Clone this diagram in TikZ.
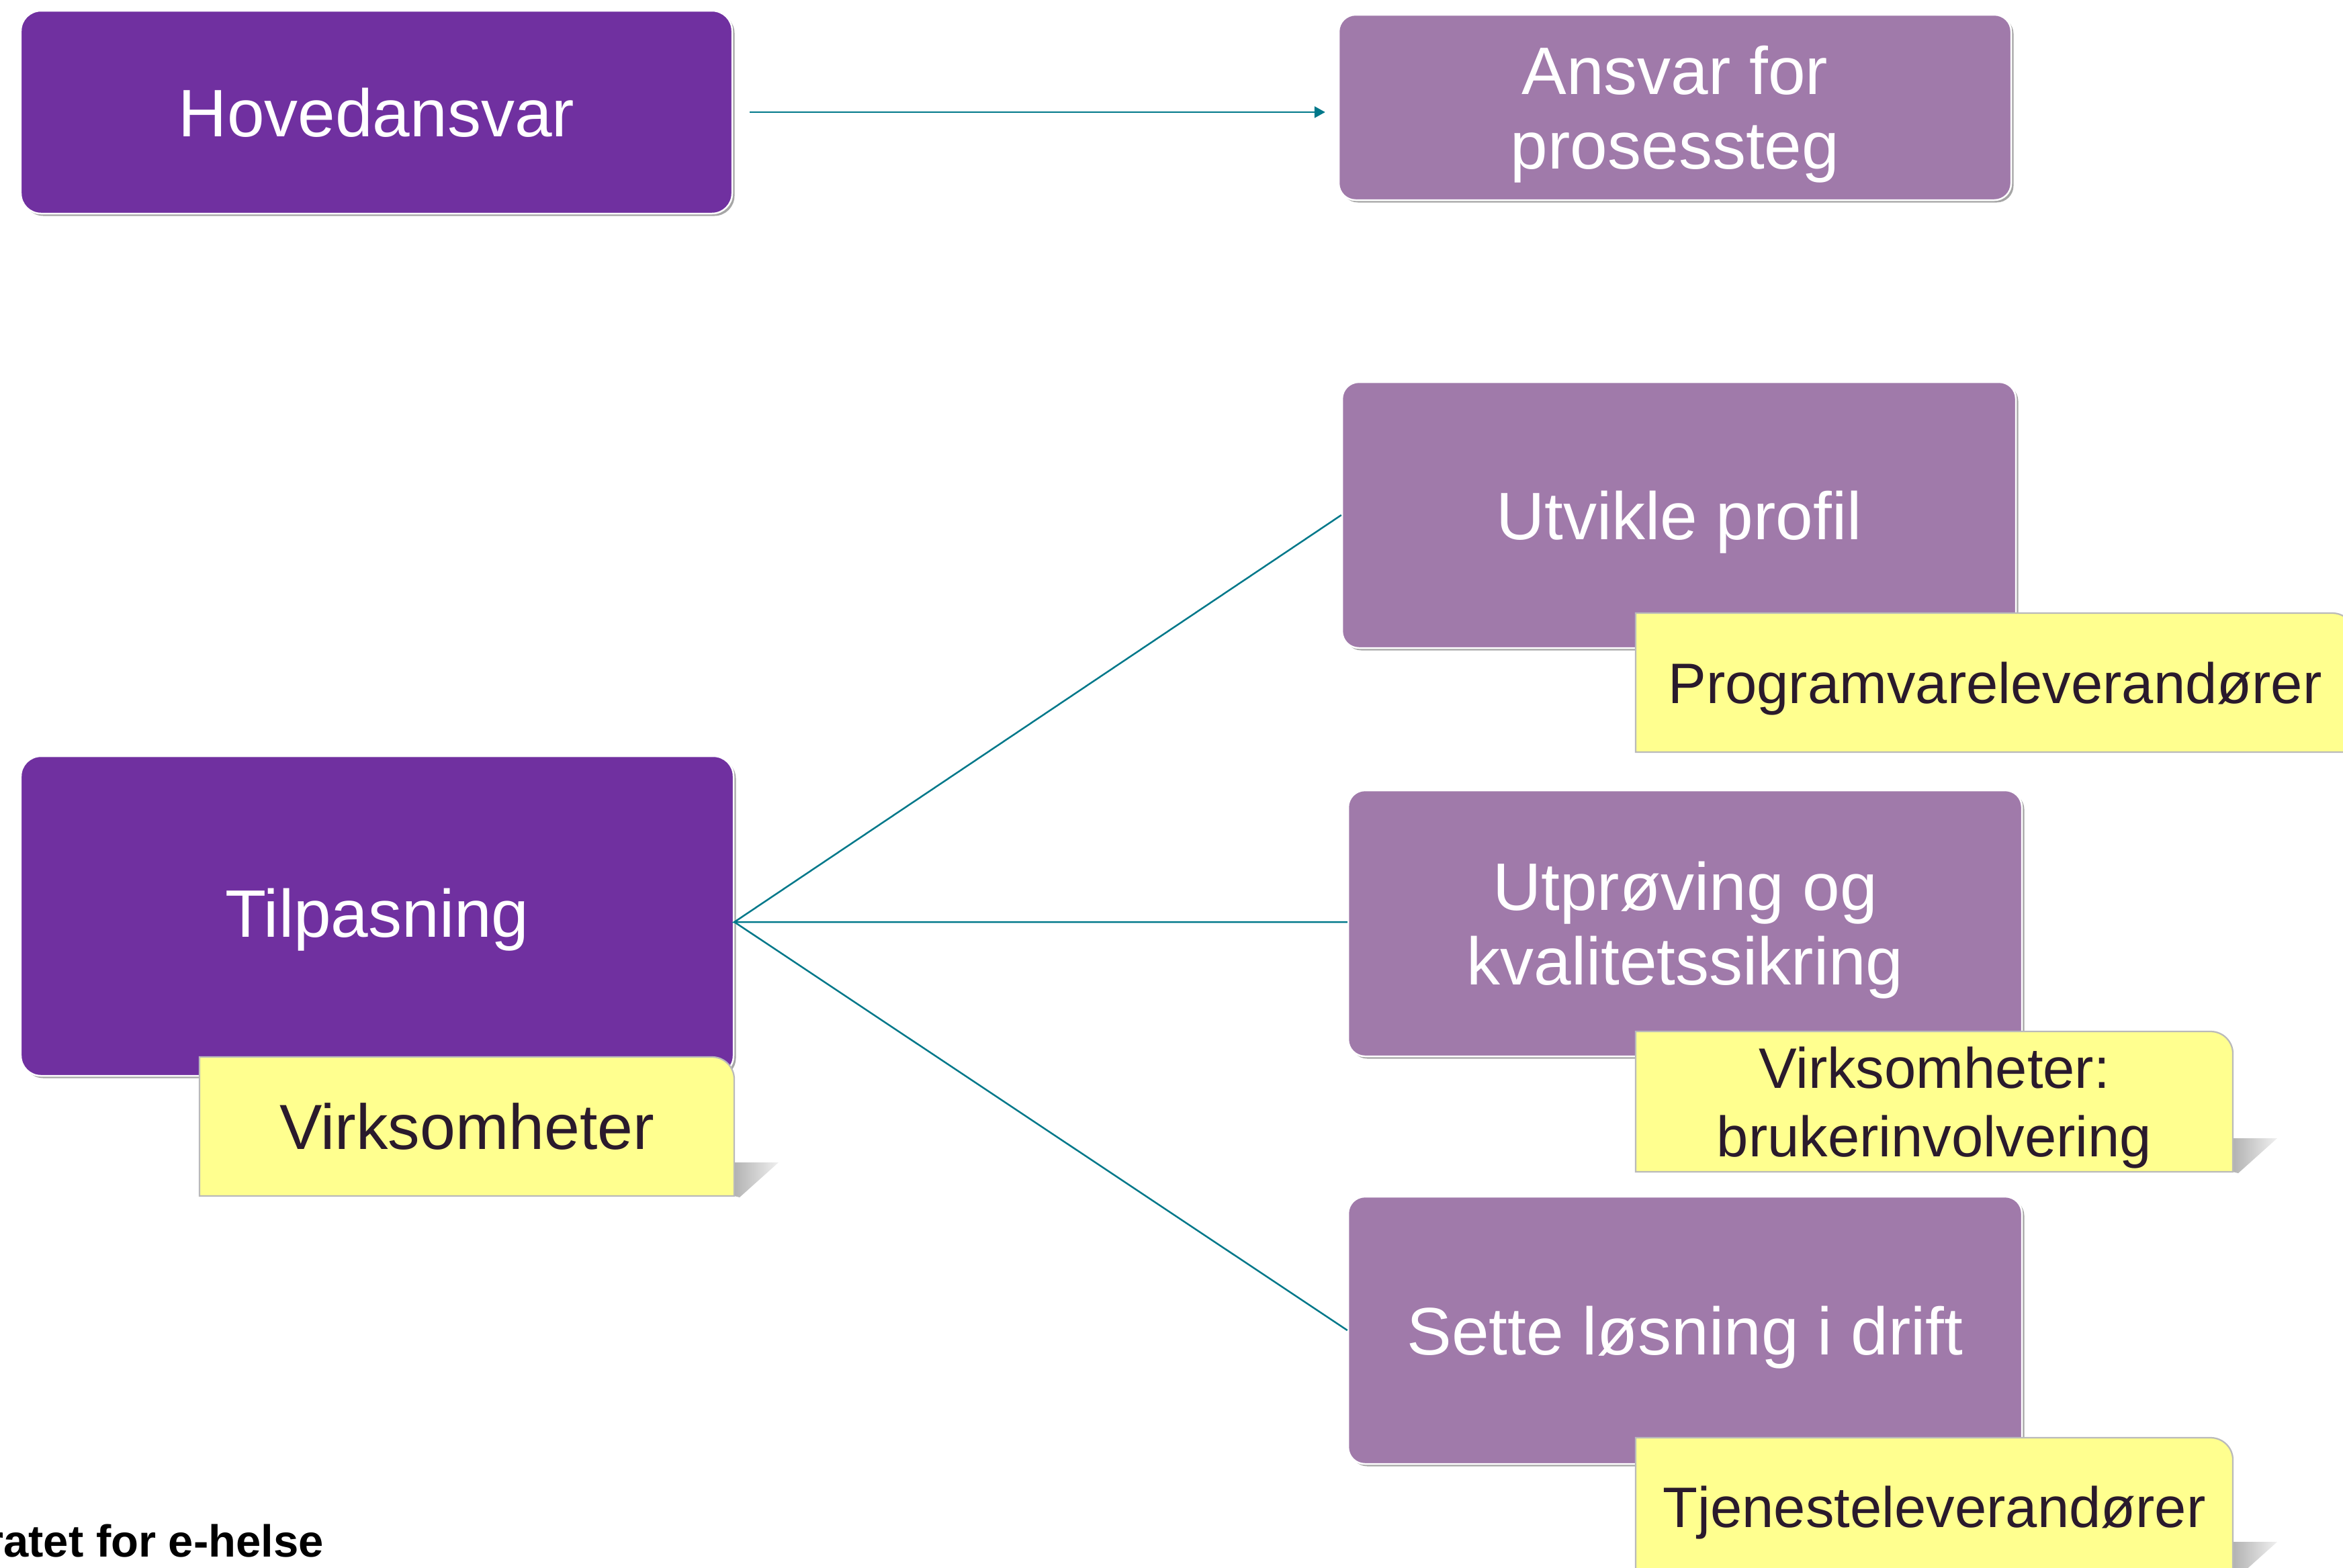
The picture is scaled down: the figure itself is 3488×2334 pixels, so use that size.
\documentclass[tikz,border=0pt]{standalone}
\usepackage{fontspec}
\setmainfont{Liberation Sans}
\usetikzlibrary{arrows.meta,shadows}
\definecolor{dpurple}{HTML}{7030A0}
\definecolor{lpurple}{HTML}{A07AAA}
\definecolor{yell}{HTML}{FFFF8F}
\definecolor{tealc}{HTML}{00788A}
\definecolor{ytxt}{HTML}{2A1A2C}
\pgfdeclarelayer{fg}
\pgfsetlayers{main,fg}
\newcommand\yellowbg[1]{%
  \shade[yshadow] ([yshift=10pt]#1.south east) -- ++(13.2pt,0pt) -- ([xshift=1.6pt,yshift=-0.4pt]#1.south east) -- (#1.south east) -- cycle;
  \filldraw[yshape] (#1.south west) -- (#1.north west) -- ([xshift=-6.6pt]#1.north east) arc[start angle=90,end angle=0,radius=6.6pt] -- (#1.south east) -- cycle;
}
\begin{document}
\begin{tikzpicture}[x=0.2pt,y=-0.2pt,
  dbox/.style={rectangle, rounded corners=6pt, inner sep=0pt, fill=dpurple, draw=white, line width=0.5pt,
    text=white, font=\fontsize{20}{22.2}\selectfont, align=center, text depth=0pt,
    drop shadow={shadow xshift=0.7pt, shadow yshift=-0.7pt, opacity=0.35, fill=black}},
  lbox/.style={dbox, fill=lpurple, rounded corners=5pt},
  ytext/.style={rectangle, inner sep=0pt, text=ytxt, font=\fontsize{17}{20.4}\selectfont, align=center, text depth=0pt},
  yshape/.style={fill=yell, draw=black!27, line width=0.45pt},
  yshadow/.style={left color=black!30, right color=black!6},
  conn/.style={draw=tealc, line width=0.5pt},
]
\useasboundingbox (0,0) rectangle (3488,2334);
\clip (0,0) rectangle (3488,2334);

% purple boxes
\node[dbox, minimum width=211.8pt, minimum height=60.4pt] (hoved) at (560.5,167) {Hovedansvar};
\node[lbox, minimum width=200.2pt, minimum height=55.2pt] (ansvar) at (2493.5,160) {Ansvar for\\prosessteg};
\node[lbox, minimum width=200.6pt, minimum height=79.2pt] (utvikle) at (2499.5,767) {Utvikle profil};
\node[lbox, minimum width=200.6pt, minimum height=79.2pt] (utprov) at (2508.5,1375) {Utprøving og\\kvalitetssikring};
\node[lbox, minimum width=200.6pt, minimum height=79.6pt] (sette) at (2508.5,1981) {Sette løsning i drift};
\node[dbox, minimum width=212.2pt, minimum height=95.2pt, text depth=2pt] (tilp) at (561.5,1364) {Tilpasning};

% yellow label texts (front layer)
\begin{pgfonlayer}{fg}
\node[ytext, minimum width=158.8pt, minimum height=41pt, font=\fontsize{19}{22}\selectfont] (virk) at (695,1677.5) {Virksomheter};
\node[ytext, minimum width=213.6pt, minimum height=41pt] (prog) at (2970,1016.5) {Programvareleverandører};
\node[ytext, minimum width=177.4pt, minimum height=41.4pt] (bruk) at (2879.5,1640.5) {Virksomheter:\\brukerinvolvering};
\node[ytext, minimum width=177.4pt, minimum height=40.6pt] (tjen) at (2879.5,2243.5) {Tjenesteleverandører};
\end{pgfonlayer}

% yellow label shapes
\yellowbg{virk}
\yellowbg{prog}
\yellowbg{bruk}
\yellowbg{tjen}

% connectors
\draw[conn, -{Triangle[length=3.2pt,width=3.4pt]}] ([xshift=5pt]hoved.east) -- ([xshift=-3.8pt]ansvar.west |- hoved.east);
\coordinate (hub) at ([yshift=-1.8pt]tilp.east);
\draw[conn] (utvikle.west) -- (hub) -- (utprov.west |- hub);
\draw[conn] (hub) -- (sette.west);

% footer
\node[anchor=base east, inner sep=0pt, font=\fontsize{13.4}{15}\selectfont\bfseries, text=black] (footer) at (483,2318) {Direktoratet for e-helse};
\end{tikzpicture}
\end{document}
